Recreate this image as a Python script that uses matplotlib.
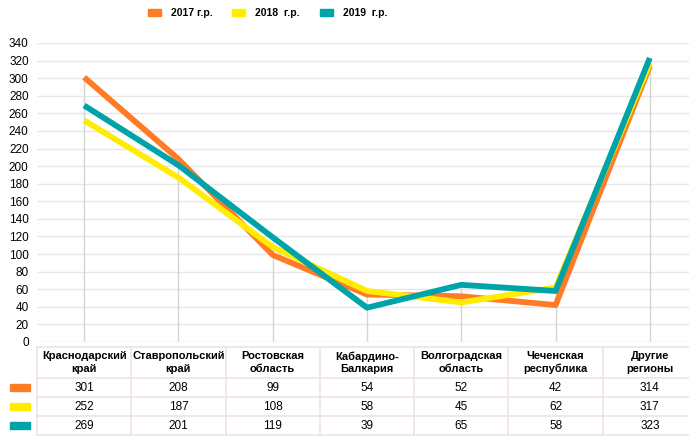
import matplotlib
matplotlib.use("Agg")
import matplotlib.pyplot as plt
from matplotlib.patches import Rectangle
from matplotlib import font_manager

names = {f.name for f in font_manager.fontManager.ttflist}
fam = 'Liberation Sans Narrow' if 'Liberation Sans Narrow' in names else 'Liberation Sans'
plt.rcParams['font.family'] = [fam, 'DejaVu Sans']

categories = ["Краснодарский\nкрай", "Ставропольский\nкрай", "Ростовская\nобласть",
              "Кабардино-\nБалкария", "Волгоградская\nобласть", "Чеченская\nреспублика",
              "Другие\nрегионы"]
series_names = ["2017 г.р.", "2018  г.р.", "2019  г.р."]
v2017 = [301, 208, 99, 54, 52, 42, 314]
v2018 = [252, 187, 108, 58, 45, 62, 317]
v2019 = [269, 201, 119, 39, 65, 58, 323]
series = [v2017, v2018, v2019]
colors = ["#FF7B25", "#FFEC00", "#00A3A8"]
yticks = list(range(0, 341, 20))

W, H = 689, 441
fig = plt.figure(figsize=(W / 100, H / 100), dpi=100)

left, right = 37, 697
ax = fig.add_axes([left / W, (H - 342) / H, (right - left) / W, 299 / H])
n = len(categories)
x = list(range(n))
ax.set_xlim(-0.5, n - 0.5)
ax.set_ylim(0, 340)
ax.set_yticks(yticks)
ax.tick_params(axis='y', length=0, labelsize=8.5, pad=6)
ax.set_xticks([])
for s in ax.spines.values():
    s.set_visible(False)
ax.grid(axis='y', color='#e6e6e6', lw=1)
ax.set_axisbelow(True)

tops = [max(a, b, c) for a, b, c in zip(*series)]
ax.vlines(x, 0, tops, color='#d4d4d4', lw=1, zorder=1)
for vals, c in zip(series, colors):
    ax.plot(x, vals, color=c, lw=4.2, solid_capstyle='butt', zorder=3)

# data table
tb = fig.add_axes([left / W, (H - 436) / H, (right - left) / W, (436 - 347) / H])
tb.set_xlim(-0.5, n - 0.5)
tb.set_ylim(436, 347)
tb.axis('off')
bc = '#efe4df'
row_edges = [347, 378, 397, 416, 435]
for yy in row_edges:
    tb.plot([-0.5, n - 0.5], [yy, yy], color=bc, lw=1.2, clip_on=False)
for i in range(n + 1):
    tb.plot([i - 0.5, i - 0.5], [347, 435], color=bc, lw=1.2, clip_on=False)
for i, cat in enumerate(categories):
    tb.text(i, 362.5, cat, ha='center', va='center', fontsize=8, fontweight='bold',
            linespacing=1.3)
for r, (vals, c) in enumerate(zip(series, colors)):
    yc = (row_edges[r + 1] + row_edges[r + 2]) / 2
    for i, v in enumerate(vals):
        tb.text(i, yc, str(v), ha='center', va='center', fontsize=8.5)
    tb.add_patch(Rectangle((-0.5 - 27 / 94.3, yc - 3.5), 20 / 94.3, 7, color=c,
                           clip_on=False))

handles = [Rectangle((0, 0), 1, 1, color=c) for c in colors]
fig.legend(handles, series_names, loc='center left', bbox_to_anchor=(148 / W, 1 - 13 / H),
           ncol=3, frameon=False, handlelength=1.25, handleheight=0.6,
           columnspacing=1.9, handletextpad=0.95, borderpad=0, borderaxespad=0,
           prop={'weight': 'bold', 'size': 7.5})

fig.savefig("out.png", dpi=100)
